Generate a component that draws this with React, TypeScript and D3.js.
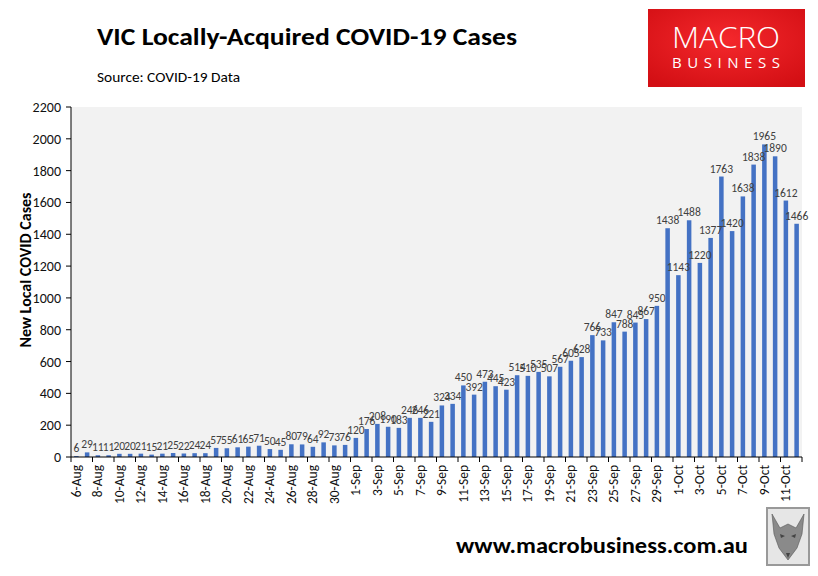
import { scaleBand, scaleLinear, timeDay, timeFormat, range } from "d3";

// daily new locally-acquired cases, 6-Aug to 12-Oct
const augCases = [
  6, 29, 11, 11, 20, 20, 21, 15, 21, 25, 22, 24, 24, 57, 55, 61, 65, 71, 50,
  45, 80, 79, 64, 92, 73, 76,
];
const sepCases = [
  120, 176, 208, 190, 183, 246, 246, 221, 324, 334, 450, 392, 473, 445, 423,
  514, 510, 535, 507, 567, 605, 628, 766, 733, 847, 788, 845, 867, 950, 1438,
];
const octCases = [1143, 1488, 1220, 1377, 1763, 1420, 1638, 1838, 1965, 1890, 1612, 1466];

const cases = [...augCases, ...sepCases, ...octCases];
const fmt = timeFormat("%-d-%b");
const days = timeDay.range(new Date(2021, 7, 6), new Date(2021, 9, 13)).map(fmt);
const yTicks = range(0, 2201, 200);

const FONT = "Carlito, 'Liberation Sans Narrow', Roboto, sans-serif";

const App = () => {
  const width = 818;
  const height = 576;
  const left = 71;
  const right = 802;
  const top = 107;
  const bottom = 457;

  const x = scaleBand<string>()
    .domain(days)
    .range([left, right])
    .paddingInner(0.58)
    .paddingOuter(0.29);
  const y = scaleLinear().domain([0, 2200]).range([bottom, top]);
  const step = x.step();
  const mid = (d: string) => (x(d) as number) + x.bandwidth() / 2;

  return (
    <svg
      width={width}
      height={height}
      style={{ position: "absolute", left: 0, top: 0, background: "#fff" }}
      fontFamily={FONT}
    >
      {/* header */}
      <text x={97} y={45} fontSize={25} fontWeight="bold" textLength={420} lengthAdjust="spacingAndGlyphs">
        VIC Locally-Acquired COVID-19 Cases
      </text>
      <text x={97} y={82} fontSize={14} textLength={143} lengthAdjust="spacingAndGlyphs">
        Source: COVID-19 Data
      </text>

      {/* logo */}
      <defs>
        <radialGradient id="red" cx="50%" cy="40%" r="70%">
          <stop offset="0%" stopColor="#f4282c" />
          <stop offset="100%" stopColor="#d30f14" />
        </radialGradient>
      </defs>
      <rect x={648} y={9} width={157} height={78} fill="url(#red)" />
      <text x={726} y={48} fontSize={29} fill="#fff" textAnchor="middle" fontFamily="'Open Sans', sans-serif" fontWeight={300} textLength={108} lengthAdjust="spacingAndGlyphs">
        MACRO
      </text>
      <text x={726} y={68} fontSize={15} fill="#fff" textAnchor="middle" fontFamily="'Open Sans', sans-serif" textLength={108} lengthAdjust="spacing">
        BUSINESS
      </text>

      {/* plot area */}
      <rect x={left} y={top} width={right - left} height={bottom - top} fill="#f2f2f2" />

      {cases.map((v, i) => (
        <rect key={days[i]} x={x(days[i])} y={y(v)} width={x.bandwidth()} height={bottom - y(v)} fill="#4472c4" />
      ))}

      {cases.map((v, i) => (
        <text key={"l" + days[i]} x={mid(days[i])} y={y(v) - 4} fontSize={11.5} fill="#404040" textAnchor="middle">
          {v}
        </text>
      ))}

      {/* y axis */}
      <line x1={left} x2={left} y1={top} y2={bottom} stroke="#000" />
      {yTicks.map((t) => (
        <g key={t}>
          <line x1={left - 5} x2={left} y1={y(t)} y2={y(t)} stroke="#000" />
          <text x={61} y={y(t) + 5} fontSize={14} textAnchor="end" fill="#111">
            {t}
          </text>
        </g>
      ))}
      <text
        transform={`translate(31,270) rotate(-90)`}
        fontSize={16}
        fontWeight="bold"
        textAnchor="middle"
        textLength={155}
        lengthAdjust="spacingAndGlyphs"
      >
        New Local COVID Cases
      </text>

      {/* x axis */}
      <line x1={left} x2={right} y1={bottom} y2={bottom} stroke="#000" />
      {range(0, days.length + 1, 2).map((i) => (
        <line key={"t" + i} x1={left + step * i} x2={left + step * i} y1={bottom} y2={bottom + 5} stroke="#000" />
      ))}
      {days.map((d, i) =>
        i % 2 === 0 ? (
          <text
            key={"x" + d}
            transform={`translate(${mid(d) + 4.5},${bottom + 8}) rotate(-90)`}
            fontSize={13.5}
            textAnchor="end"
            fill="#111"
          >
            {d}
          </text>
        ) : null
      )}

      {/* footer */}
      <text x={456} y={553} fontSize={23} fontWeight="bold" textLength={292} lengthAdjust="spacingAndGlyphs">
        www.macrobusiness.com.au
      </text>
      <rect x={767} y={508} width={42} height={57} fill="#e6e6e6" stroke="#999" strokeWidth={2} />
      <g fill="#8a8a8a" stroke="#555" strokeWidth={0.6}>
        <path d="M772,514 L780,528 L788,524 L796,528 L804,514 L802,534 L797,548 L788,560 L779,548 L774,534 Z" />
      </g>
      <g fill="#444">
        <path d="M780,534 L785,536 L781,538 Z" />
        <path d="M796,534 L791,536 L795,538 Z" />
        <path d="M786,553 L790,553 L788,558 Z" />
      </g>
    </svg>
  );
};

export default App;
